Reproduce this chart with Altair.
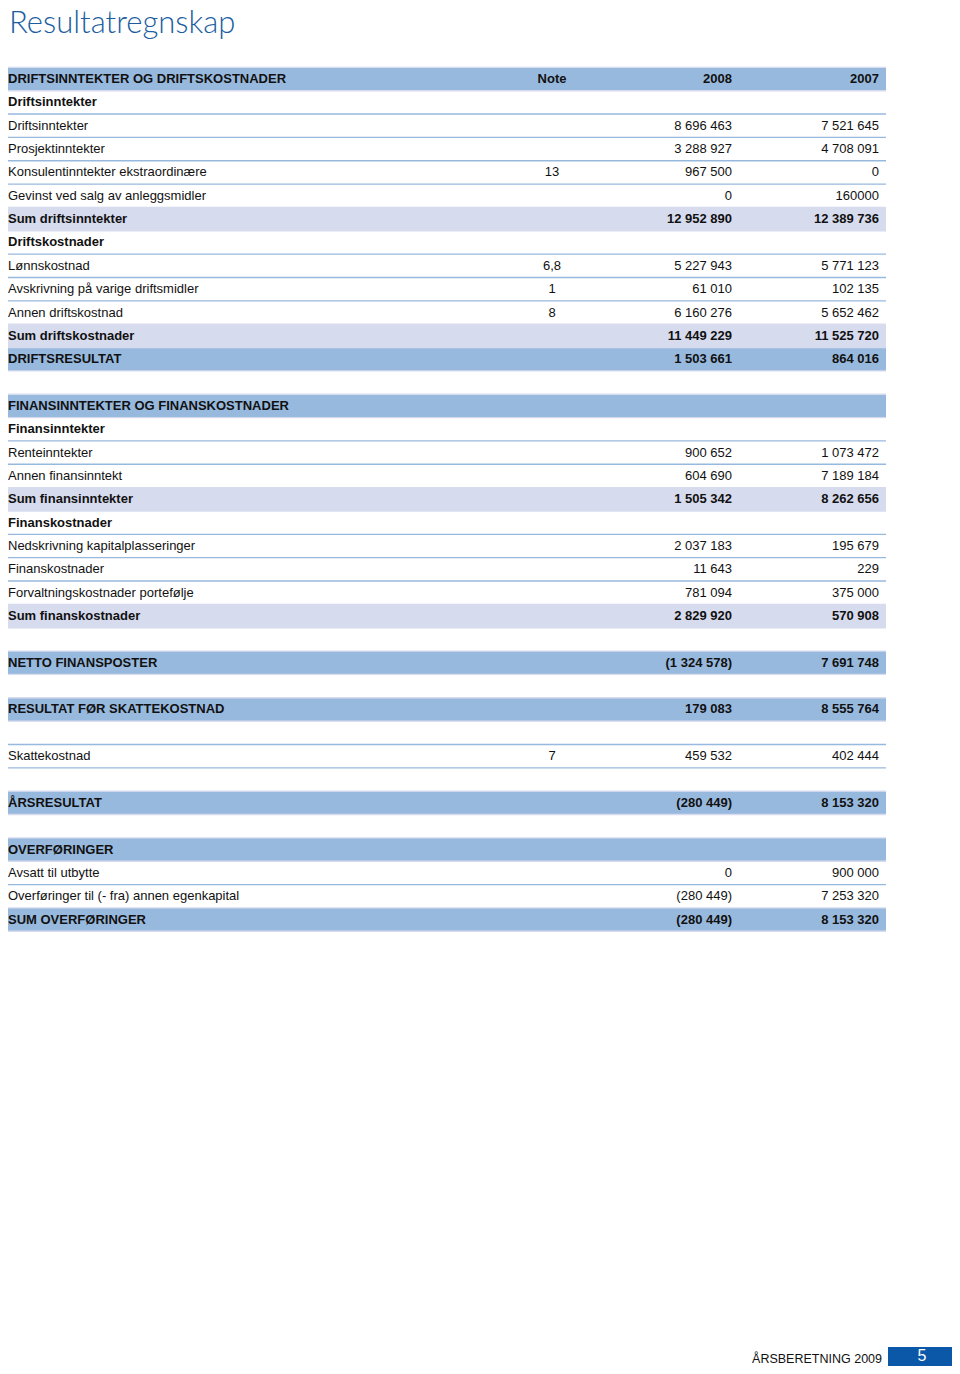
import altair as alt
import pandas as pd

# ---- data ----
labels = [
    "DRIFTSINNTEKTER OG DRIFTSKOSTNADER", "Driftsinntekter", "Driftsinntekter",
    "Prosjektinntekter", "Konsulentinntekter ekstraordinære",
    "Gevinst ved salg av anleggsmidler", "Sum driftsinntekter", "Driftskostnader",
    "Lønnskostnad", "Avskrivning på varige driftsmidler", "Annen driftskostnad",
    "Sum driftskostnader", "DRIFTSRESULTAT", "",
    "FINANSINNTEKTER OG FINANSKOSTNADER", "Finansinntekter", "Renteinntekter",
    "Annen finansinntekt", "Sum finansinntekter", "Finanskostnader",
    "Nedskrivning kapitalplasseringer", "Finanskostnader",
    "Forvaltningskostnader portefølje", "Sum finanskostnader", "",
    "NETTO FINANSPOSTER", "", "RESULTAT FØR SKATTEKOSTNAD", "", "Skattekostnad", "",
    "ÅRSRESULTAT", "", "OVERFØRINGER", "Avsatt til utbytte",
    "Overføringer til (- fra) annen egenkapital", "SUM OVERFØRINGER",
]
notes = [
    "Note", "", "", "", "13", "", "", "", "6,8", "1", "8", "", "", "",
    "", "", "", "", "", "", "", "", "", "", "",
    "", "", "", "", "7", "", "", "", "", "", "", "",
]
v2008 = [
    "2008", "", "8 696 463", "3 288 927", "967 500", "0", "12 952 890", "",
    "5 227 943", "61 010", "6 160 276", "11 449 229", "1 503 661", "",
    "", "", "900 652", "604 690", "1 505 342", "", "2 037 183", "11 643",
    "781 094", "2 829 920", "", "(1 324 578)", "", "179 083", "", "459 532", "",
    "(280 449)", "", "", "0", "(280 449)", "(280 449)",
]
v2007 = [
    "2007", "", "7 521 645", "4 708 091", "0", "160000", "12 389 736", "",
    "5 771 123", "102 135", "5 652 462", "11 525 720", "864 016", "",
    "", "", "1 073 472", "7 189 184", "8 262 656", "", "195 679", "229",
    "375 000", "570 908", "", "7 691 748", "", "8 555 764", "", "402 444", "",
    "8 153 320", "", "", "900 000", "7 253 320", "8 153 320",
]
kinds = [
    "header", "sub", "item", "item", "item", "item", "sum", "sub",
    "item", "item", "item", "sum", "header", "blank",
    "header", "sub", "item", "item", "sum", "sub", "item", "item",
    "item", "sum", "blank", "header", "blank", "header", "blank", "item", "blank",
    "header", "blank", "header", "item", "item", "header",
]
page_title = "Resultatregnskap"
footer_text = "ÅRSBERETNING 2009"
page_number = "5"

# ---- tables ----
rows = pd.DataFrame({
    "row": list(range(len(labels))),
    "label": labels, "note": notes, "v2008": v2008, "v2007": v2007, "kind": kinds,
})
rows["bold"] = rows["kind"] != "item"
filled = rows[rows["kind"].isin(["header", "sum"])]

line_recs = {}
for r, k in zip(rows["row"], rows["kind"]):
    if k == "blank":
        continue
    dark = k in ("header", "sum")
    for pos in (r - 0.5, r + 0.5):
        line_recs[pos] = "dark" if (dark or line_recs.get(pos) == "dark") else "light"
lines = pd.DataFrame({"pos": list(line_recs.keys()), "tone": list(line_recs.values())})
lines = lines.sort_values("tone", ascending=False)  # light first, dark on top

W, H = 944, 1358
ROW0, STEP = 79.0, 23.35
yscale = alt.Scale(domain=[(8 - ROW0) / STEP, (8 + H - ROW0) / STEP],
                   reverse=True, nice=False, zero=False)
FONT = "Liberation Sans"
FS = 13
TXT = "#111111"
TABLE_RIGHT = 878

fills = alt.Chart(filled).mark_rect().encode(
    x=alt.value(0), x2=alt.value(TABLE_RIGHT),
    y=alt.Y("top:Q", scale=yscale, axis=None), y2="bot:Q",
    color=alt.Color("kind:N", scale=alt.Scale(domain=["header", "sum"],
                                              range=["#98b9de", "#d7dbee"]), legend=None),
).transform_calculate(top="datum.row - 0.5", bot="datum.row + 0.5")

rules = alt.Chart(lines).mark_rule(strokeWidth=1.4).encode(
    x=alt.value(0), x2=alt.value(TABLE_RIGHT),
    y=alt.Y("pos:Q", scale=yscale, axis=None),
    color=alt.Color("tone:N", scale=alt.Scale(domain=["light", "dark"],
                                              range=["#9c9c9c", "#2f3a4a"]), legend=None),
)

def col_text(field, xpos, align, bold):
    return alt.Chart(rows[rows["bold"] == bold]).mark_text(
        align=align, baseline="middle", font=FONT, fontSize=FS,
        fontWeight="bold" if bold else "normal", color=TXT,
    ).encode(
        x=alt.value(xpos), y=alt.Y("row:Q", scale=yscale, axis=None),
        text=f"{field}:N",
    )

texts = []
for b in (True, False):
    texts += [
        col_text("label", 0, "left", b),
        col_text("note", 544, "center", b),
        col_text("v2008", 724, "right", b),
        col_text("v2007", 871, "right", b),
    ]

title = alt.Chart(pd.DataFrame({"t": [page_title]})).mark_text(
    align="left", baseline="top", font="Lato", fontSize=31, fontWeight=300,
    color="#1b5d9f",
).encode(x=alt.value(1), y=alt.value(1), text="t:N")

footer = alt.Chart(pd.DataFrame({"t": [footer_text]})).mark_text(
    align="right", baseline="alphabetic", font=FONT, fontSize=12.5, color="#111111",
).encode(x=alt.value(874), y=alt.value(1355), text="t:N")

box = alt.Chart(pd.DataFrame({"t": [page_number]})).mark_rect(color="#0b57a8").encode(
    x=alt.value(880), x2=alt.value(960), y=alt.value(1339), y2=alt.value(1358),
)
num = alt.Chart(pd.DataFrame({"t": [page_number]})).mark_text(
    align="center", baseline="middle", font=FONT, fontSize=16, color="white",
).encode(x=alt.value(914), y=alt.value(1348), text="t:N")

chart = alt.layer(fills, rules, *texts, title, footer, box, num).properties(
    width=W, height=H, padding=0, autosize=alt.AutoSizeParams(type="none"),
).configure_view(stroke=None)

chart.save("out.html", embed_options={"renderer": "svg", "actions": False})
